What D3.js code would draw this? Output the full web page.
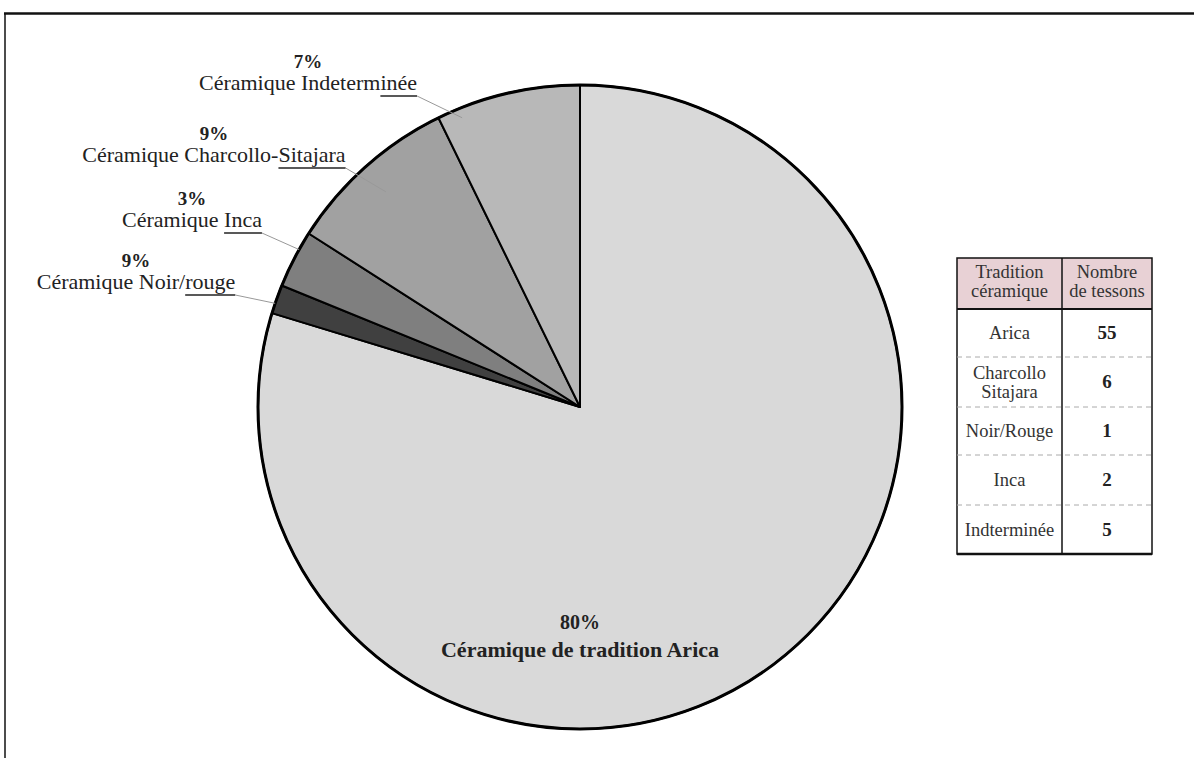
<!DOCTYPE html>
<html><head><meta charset="utf-8">
<script src="https://cdn.jsdelivr.net/npm/d3@7"></script>
<style>body{margin:0;background:#fff}svg{display:block}</style>
</head><body>
<script>
// ---- data ----
const sliceNames = ["Arica", "Noir/rouge", "Inca", "Charcollo-Sitajara", "Indeterminée"];
const sliceCounts = [55, 1, 2, 6, 5];
const sliceLabels = ["Céramique de tradition Arica", "Céramique Noir/rouge", "Céramique Inca", "Céramique Charcollo-Sitajara", "Céramique Indeterminée"];
const slicePercents = ["80%", "9%", "3%", "9%", "7%"];
const tableHeaders = [["Tradition", "céramique"], ["Nombre", "de tessons"]];
const tableTraditions = [["Arica"], ["Charcollo", "Sitajara"], ["Noir/Rouge"], ["Inca"], ["Indterminée"]];
const tableCounts = [55, 6, 1, 2, 5];

// ---- styles / layout ----
const sliceColors = ["#d9d9d9", "#404040", "#7f7f7f", "#a1a1a1", "#b8b8b8"];
const W = 1194, H = 758;
const cx = 580, cy = 407, R = 322;
const FONT = "'Liberation Serif', 'Times New Roman', serif";
// outside label layout: text centre x, baseline of name, underline chars, leader angle fraction within slice, leader radius factor
const labelLayout = [
  null,
  {x: 136, y: 289, ul: 5, f: 0.35, r: 1.0},
  {x: 192, y: 227, ul: 4, f: 0.68, r: 1.0},
  {x: 214, y: 162, ul: 8, f: 0.49, r: 0.9},
  {x: 308, y: 90, ul: 4, f: 0.15, r: 0.97}
];

const svg = d3.select("body").append("svg").attr("width", W).attr("height", H);

// frame
svg.append("line").attr("x1", 4).attr("x2", W).attr("y1", 13.5).attr("y2", 13.5)
  .attr("stroke", "#111").attr("stroke-width", 2.5);
svg.append("line").attr("x1", 5).attr("x2", 5).attr("y1", 13).attr("y2", H)
  .attr("stroke", "#111").attr("stroke-width", 1.5);

const pie = d3.pie().sort(null).value(d => d);
const arcs = pie(sliceCounts);
const arc = d3.arc().innerRadius(0).outerRadius(R);
const g = svg.append("g").attr("transform", `translate(${cx},${cy})`);

g.selectAll("path.slice").data(arcs).join("path").attr("class", "slice")
  .attr("d", arc).attr("fill", (d, i) => sliceColors[i])
  .attr("stroke", "#000").attr("stroke-width", 2).attr("stroke-linejoin", "round");
g.append("circle").attr("r", R).attr("fill", "none").attr("stroke", "#000").attr("stroke-width", 3);

// outside labels
arcs.forEach((d, i) => {
  const L = labelLayout[i];
  if (!L) return;
  svg.append("text").attr("x", L.x).attr("y", L.y - 22)
    .attr("text-anchor", "middle").attr("font-family", FONT).attr("font-size", 19)
    .attr("font-weight", "bold").attr("fill", "#222").text(slicePercents[i]);
  const t = svg.append("text").attr("x", L.x).attr("y", L.y)
    .attr("text-anchor", "middle").attr("font-family", FONT).attr("font-size", 22)
    .attr("fill", "#222").text(sliceLabels[i]);
  const node = t.node();
  const n = sliceLabels[i].length;
  const ux0 = node.getStartPositionOfChar(n - L.ul).x;
  const ux1 = node.getEndPositionOfChar(n - 1).x;
  const uy = L.y + 6;
  svg.append("line").attr("x1", ux0).attr("x2", ux1).attr("y1", uy).attr("y2", uy)
    .attr("stroke", "#222").attr("stroke-width", 1.5);
  const a = d.startAngle + L.f * (d.endAngle - d.startAngle);
  const ex = cx + L.r * R * Math.sin(a), ey = cy - L.r * R * Math.cos(a);
  svg.append("line").attr("x1", ux1).attr("y1", uy).attr("x2", ex).attr("y2", ey)
    .attr("stroke", "#999").attr("stroke-width", 1);
});

// centre label for Arica
svg.append("text").attr("x", cx).attr("y", 629).attr("text-anchor", "middle")
  .attr("font-family", FONT).attr("font-size", 20).attr("font-weight", "bold").attr("fill", "#222")
  .text(slicePercents[0]);
svg.append("text").attr("x", cx).attr("y", 657).attr("text-anchor", "middle")
  .attr("font-family", FONT).attr("font-size", 22).attr("font-weight", "bold").attr("fill", "#222")
  .text(sliceLabels[0]);

// table
const tx = 957, tw = 195, colX = 1062, ty = 258, headH = 51;
const rowBounds = [309, 357, 407, 455, 505, 554];
const tg = svg.append("g");
tg.append("rect").attr("x", tx).attr("y", ty).attr("width", tw).attr("height", headH)
  .attr("fill", "#e8d1d5");
tg.append("rect").attr("x", tx).attr("y", ty).attr("width", tw).attr("height", rowBounds[5] - ty)
  .attr("fill", "none").attr("stroke", "#111").attr("stroke-width", 1.5);
tg.append("line").attr("x1", colX).attr("x2", colX).attr("y1", ty).attr("y2", rowBounds[5])
  .attr("stroke", "#111").attr("stroke-width", 1.5);
tg.append("line").attr("x1", tx).attr("x2", tx + tw).attr("y1", rowBounds[0]).attr("y2", rowBounds[0])
  .attr("stroke", "#111").attr("stroke-width", 2);
tg.append("line").attr("x1", tx).attr("x2", tx + tw).attr("y1", rowBounds[5]).attr("y2", rowBounds[5])
  .attr("stroke", "#111").attr("stroke-width", 2.5);
rowBounds.slice(1, 5).forEach(y => {
  tg.append("line").attr("x1", tx).attr("x2", tx + tw).attr("y1", y).attr("y2", y)
    .attr("stroke", "#aaa").attr("stroke-width", 1).attr("stroke-dasharray", "5,4");
});
const col1c = (tx + colX) / 2, col2c = (colX + tx + tw) / 2;
tableHeaders.forEach((lines, c) => {
  const xc = c === 0 ? col1c : col2c;
  lines.forEach((s, k) => {
    tg.append("text").attr("x", xc).attr("y", ty + 20 + k * 19).attr("text-anchor", "middle")
      .attr("font-family", FONT).attr("font-size", 18.5).attr("fill", "#333").text(s);
  });
});
tableTraditions.forEach((lines, r) => {
  const mid = (rowBounds[r] + rowBounds[r + 1]) / 2;
  const y0 = mid + 6 - (lines.length - 1) * 9.5;
  lines.forEach((s, k) => {
    tg.append("text").attr("x", col1c).attr("y", y0 + k * 19).attr("text-anchor", "middle")
      .attr("font-family", FONT).attr("font-size", 18.5).attr("fill", "#333").text(s);
  });
  tg.append("text").attr("x", col2c).attr("y", mid + 6).attr("text-anchor", "middle")
    .attr("font-family", FONT).attr("font-size", 19).attr("font-weight", "bold").attr("fill", "#222")
    .text(tableCounts[r]);
});
</script>
</body></html>
